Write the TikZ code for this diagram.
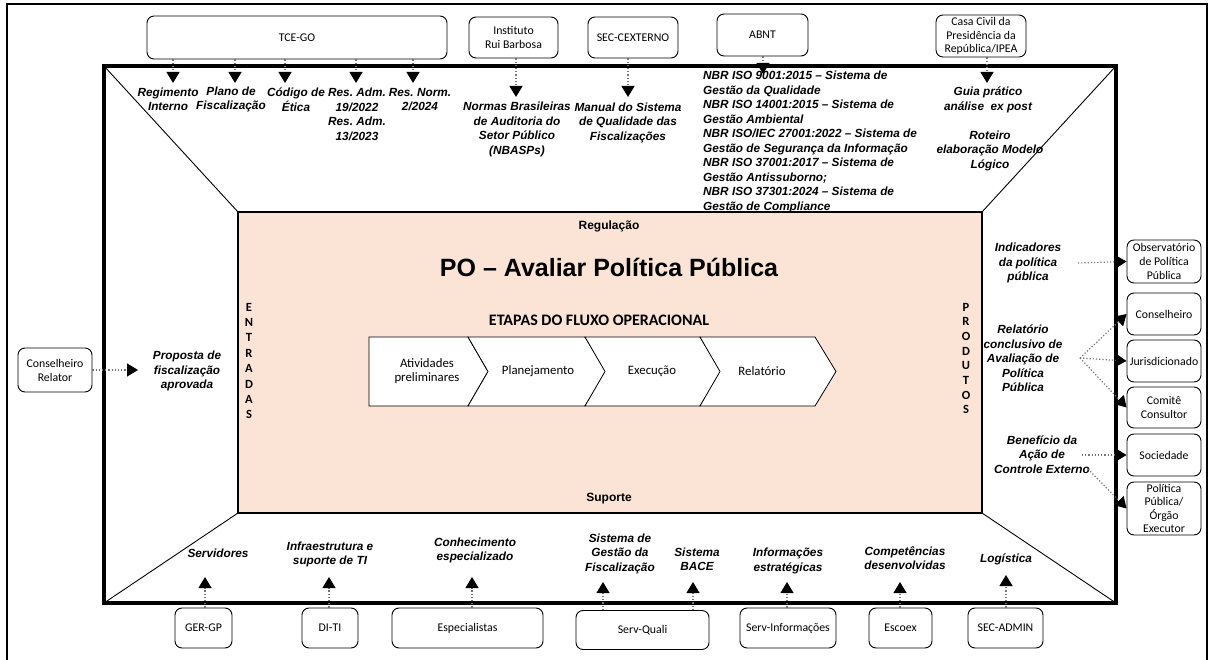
\documentclass[tikz,border=0pt]{standalone}
\usepackage{fontspec}
\setmainfont{Liberation Sans}
\newfontfamily\calib{Carlito}
\usetikzlibrary{arrows.meta}
\definecolor{peach}{RGB}{251,228,214}
\frenchspacing
\tikzset{
  box/.style={draw, rounded corners=7pt, line width=0.9pt, align=center, inner sep=1pt,
    font=\calib\fontsize{11.8}{14}\selectfont},
  lbl/.style={align=center, inner sep=0pt, font=\bfseries\itshape\fontsize{11.8}{14.5}\selectfont},
  flow/.style={black!55, dotted, line width=1.2pt, -{Triangle[width=13pt,length=11pt,black]}},
  caps/.style={align=center, inner sep=0pt, font=\calib\bfseries\fontsize{12.5}{15.4}\selectfont},
  stage/.style={draw, fill=white, line width=0.8pt},
  stagetxt/.style={align=center, inner sep=0pt, font=\calib\fontsize{12.8}{14.5}\selectfont}
}
\begin{document}
\begin{tikzpicture}[x=1pt,y=-1pt]
\useasboundingbox (0,0) rectangle (1211,660);
\draw[line width=2pt] (7,660) |- (1207,4) -- (1207,660);

% frame
\coordinate (o1) at (104,66);  \coordinate (o2) at (1116,66);
\coordinate (o3) at (1116,603); \coordinate (o4) at (104,603);
\coordinate (i1) at (238,212); \coordinate (i2) at (982,212);
\coordinate (i3) at (982,513); \coordinate (i4) at (238,513);
\foreach \c in {1,2,3,4} \draw[line width=0.9pt] (o\c) -- (i\c);
\draw[line width=1.5pt, fill=peach] (i1) rectangle (i3);
\draw[line width=4pt] (o1) rectangle (o3);

\node[font=\bfseries\fontsize{12}{13}\selectfont] (regul) at (609,226) {Regulação};
\node[font=\bfseries\fontsize{25}{30}\selectfont] (po) at (609,267) {PO – Avaliar Política Pública};
\node[font=\calib\bfseries\fontsize{16}{18}\selectfont] (etapas) at (599,320) {ETAPAS DO FLUXO OPERACIONAL};
\node[font=\bfseries\fontsize{12}{13}\selectfont] (suporte) at (609,499) {Suporte};
\node[caps] (entradas) at (249,361) {E\\N\\T\\R\\A\\D\\A\\S};
\node[caps, font=\calib\bfseries\fontsize{12.5}{14.7}\selectfont] (produtos) at (966,358.5) {P\\R\\O\\D\\U\\T\\O\\S};

% etapas
\draw[stage] (369,337) -- (468,337) -- (488,371.5) -- (468,406) -- (369,406) -- cycle;
\foreach \a/\b in {468/585,585/700,700/815}
  \draw[stage] (\a,337) -- (\b,337) -- (\b+21,371.5) -- (\b,406) -- (\a,406) -- (\a+20,371.5) -- cycle;
\node[stagetxt] (st1) at (427,371) {Atividades\\preliminares};
\node[stagetxt] (st2) at (538,371) {Planejamento};
\node[stagetxt] (st3) at (652,371) {Execução};
\node[stagetxt] (st4) at (762,371) {Relatório};

% regulação
\node[box, minimum width=300pt, minimum height=43pt] (tce) at (297,37.5) {TCE-GO};
\node[box, minimum width=89pt, minimum height=41pt] (irb) at (513.5,37.5) {Instituto\\Rui Barbosa};
\node[box, minimum width=90pt, minimum height=41pt] (secx) at (633,37.5) {SEC-CEXTERNO};
\node[box, minimum width=91pt, minimum height=42pt] (abnt) at (762.5,35) {ABNT};
\node[box, minimum width=90pt, minimum height=42pt, font=\calib\fontsize{11.8}{13.5}\selectfont] (casa) at (981,36)
  {Casa Civil da\\Presidência da\\República/IPEA};

\coordinate (t1) at (173,83); \coordinate (t2) at (235,83); \coordinate (t3) at (285,83);
\coordinate (t4) at (356,83); \coordinate (t5) at (413,83);
\coordinate (t6) at (516,97); \coordinate (t7) at (628,97);
\coordinate (t8) at (763,74); \coordinate (t9) at (987,83);
\foreach \i in {1,...,5} \draw[flow] (tce.south -| t\i) -- (t\i);
\draw[flow] (irb.south -| t6) -- (t6);
\draw[flow] (secx.south -| t7) -- (t7);
\draw[flow] (abnt.south -| t8) -- (t8);
\draw[flow] (casa.south -| t9) -- (t9);

\node[lbl] (regint) at (168,99.5) {Regimento\\Interno};
\node[lbl] (plano) at (231,99.5) {Plano de\\Fiscalização};
\node[lbl] (codigo) at (296,99.5) {Código de\\Ética};
\node[lbl] (resadm) at (357,114.5) {Res. Adm.\\19/2022\\Res. Adm.\\13/2023};
\node[lbl] (resnorm) at (420,99.5) {Res. Norm.\\2/2024};
\node[lbl] (nbasp) at (517,129.5) {Normas Brasileiras\\de Auditoria do\\Setor Público\\(NBASPs)};
\node[lbl] (manual) at (628,122.5) {Manual do Sistema\\de Qualidade das\\Fiscalizações};
\node[lbl, align=left, anchor=west] (iso) at (703,142) {NBR ISO 9001:2015 – Sistema de\\Gestão da Qualidade\\
  NBR ISO 14001:2015 – Sistema de\\Gestão Ambiental\\NBR ISO/IEC 27001:2022 – Sistema de\\
  Gestão de Segurança da Informação\\NBR ISO 37001:2017 – Sistema de\\Gestão Antissuborno;\\
  NBR ISO 37301:2024 – Sistema de\\Gestão de Compliance};
\node[lbl] (guia) at (988,100) {Guia prático\\análise\ \ ex post};
\node[lbl] (roteiro) at (990,150.5) {Roteiro\\elaboração Modelo\\Lógico};

% entradas
\node[box, minimum width=74pt, minimum height=44pt] (crel) at (55,370) {Conselheiro\\Relator};
\node[lbl] (proposta) at (187,371) {Proposta de\\fiscalização\\aprovada};
\coordinate (t10) at (138,370);
\draw[flow] (crel.east) -- (t10);

% produtos
\node[box, minimum width=74pt, minimum height=43pt] (obs) at (1164,261.5) {Observatório\\de Política\\Pública};
\node[box, minimum width=74pt, minimum height=42pt] (cons) at (1164,314) {Conselheiro};
\node[box, minimum width=74pt, minimum height=42pt] (juris) at (1164,361) {Jurisdicionado};
\node[box, minimum width=74pt, minimum height=41pt] (comite) at (1164,407.5) {Comitê\\Consultor};
\node[box, minimum width=74pt, minimum height=42pt] (soc) at (1164,455) {Sociedade};
\node[box, minimum width=74pt, minimum height=53pt, font=\calib\fontsize{11.8}{13.3}\selectfont] (polit) at (1164,508.5)
  {Política\\Pública/\\Órgão\\Executor};

\node[lbl] (indic) at (1028,263) {Indicadores\\da política\\pública};
\node[lbl] (relat) at (1023,358.5) {Relatório\\conclusivo de\\Avaliação de\\Política\\Pública};
\node[lbl] (benef) at (1042,454.5) {Benefício da\\Ação de\\Controle Externo};
\coordinate (src1) at (1078,263); \coordinate (src2) at (1080,358);
\coordinate (src3) at (1082,455); \coordinate (src4) at (1088,469);
\draw[flow] (src1) -- (obs.west);
\foreach \b in {cons,juris,comite} \draw[flow] (src2) -- (\b.west);
\draw[flow] (src3) -- (soc.west);
\draw[flow] (src4) -- (polit.west);

% suporte
\node[box, minimum width=57pt, minimum height=40pt] (gergp) at (203.5,628) {GER-GP};
\node[box, minimum width=56pt, minimum height=40pt] (diti) at (330,628) {DI-TI};
\node[box, minimum width=151pt, minimum height=40pt] (esp) at (467.5,628) {Especialistas};
\node[box, minimum width=133pt, minimum height=39pt] (squali) at (642.5,630) {Serv-Quali};
\node[box, minimum width=96pt, minimum height=40pt] (sinfo) at (788,628) {Serv-Informações};
\node[box, minimum width=63pt, minimum height=40pt] (escoex) at (900.5,628) {Escoex};
\node[box, minimum width=75pt, minimum height=40pt] (secadm) at (1005.5,628) {SEC-ADMIN};

\coordinate (b1) at (205,577); \coordinate (b2) at (329,577); \coordinate (b3) at (472,577);
\coordinate (b4) at (603,582); \coordinate (b5) at (693,582); \coordinate (b6) at (787,582);
\coordinate (b7) at (900,582); \coordinate (b8) at (1006,575);
\foreach \n/\b in {gergp/b1,diti/b2,esp/b3,squali/b4,squali/b5,sinfo/b6,escoex/b7,secadm/b8}
  \draw[flow] (\n.north -| \b) -- (\b);

\node[lbl] (serv) at (218,553) {Servidores};
\node[lbl] (infra) at (330,554.5) {Infraestrutura e\\suporte de TI};
\node[lbl] (conhec) at (475,550.5) {Conhecimento\\especializado};
\node[lbl] (sgf) at (620,553.5) {Sistema de\\Gestão da\\Fiscalização};
\node[lbl] (bace) at (697,559.5) {Sistema\\BACE};
\node[lbl] (infoest) at (788,561) {Informações\\estratégicas};
\node[lbl] (compet) at (905,558) {Competências\\desenvolvidas};
\node[lbl] (logist) at (1006,559) {Logística};
\end{tikzpicture}
\end{document}
